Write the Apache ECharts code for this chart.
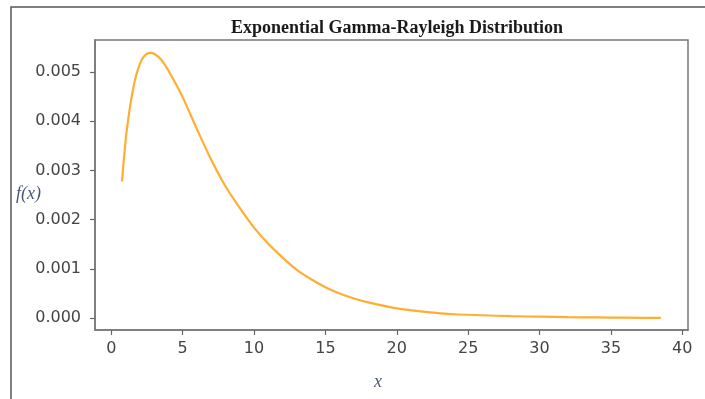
<!DOCTYPE html>
<html>
<head>
<meta charset="utf-8">
<script src="https://cdn.jsdelivr.net/npm/echarts@6/dist/echarts.min.js"></script>
<style>
  html, body { margin: 0; padding: 0; background: #fff; }
  #chart { width: 705px; height: 399px; }
</style>
</head>
<body>
<div id="chart"></div>
<script>
// values
const xs = [0.75, 1, 1.25, 1.5, 1.75, 2, 2.25, 2.5, 2.75, 3, 3.5, 4, 5, 6, 7, 8, 9, 10, 11, 12, 13,
  14, 15, 16, 17, 18, 20, 22, 24, 26, 28, 30, 32, 34, 36, 38.5]
const fx = [0.00278, 0.00360, 0.00417, 0.00461, 0.00494, 0.00516, 0.00530, 0.00537, 0.00539, 0.00537,
  0.00525, 0.00503, 0.00449, 0.00384, 0.00322, 0.00268, 0.00224, 0.00184, 0.00151, 0.00123, 0.00098,
  0.00079, 0.00063, 0.00050, 0.00040, 0.00032, 0.00020, 0.00013, 0.00008, 0.00006, 0.00004,
  0.00003, 0.00002, 0.000015, 0.00001, 0.000005]
const xTicks = [0, 5, 10, 15, 20, 25, 30, 35, 40]
const yTicks = [0, 0.001, 0.002, 0.003, 0.004, 0.005]

const chart = echarts.init(document.getElementById('chart'))

const tickFont = {
  color: '#444',
  fontFamily: 'DejaVu Sans',
  fontSize: 16
}

const option = {
  backgroundColor: '#fff',
  animation: false,
  title: {
    text: 'Exponential Gamma-Rayleigh Distribution',
    left: 392,
    textAlign: 'center',
    top: 14,
    textStyle: {
      color: '#1a1a1a',
      fontFamily: 'Liberation Serif',
      fontWeight: 'bold',
      fontSize: 18
    }
  },
  grid: {
    left: 95,
    right: 17,
    top: 40,
    bottom: 69,
    show: true,
    borderColor: '#777',
    borderWidth: 1.5,
    backgroundColor: '#fff'
  },
  xAxis: {
    type: 'value',
    min: -1.14,
    max: 40.4,
    splitLine: { show: false },
    axisLine: { show: true, onZero: false, lineStyle: { color: '#777', width: 1.5 } },
    axisTick: {
      show: true,
      length: 5,
      customValues: xTicks,
      lineStyle: { color: '#666', width: 1.2 }
    },
    axisLabel: {
      customValues: xTicks,
      margin: 11,
      ...tickFont
    }
  },
  yAxis: {
    type: 'value',
    min: -0.00024,
    max: 0.00565,
    splitLine: { show: false },
    axisLine: { show: true, onZero: false, lineStyle: { color: '#777', width: 1.5 } },
    axisTick: {
      show: true,
      length: 5,
      customValues: yTicks,
      lineStyle: { color: '#666', width: 1.2 }
    },
    axisLabel: {
      customValues: yTicks,
      margin: 14,
      formatter: v => v.toFixed(3),
      ...tickFont
    }
  },
  graphic: [
    {
      type: 'polyline',
      shape: { points: [[11, 399], [11, 7], [705, 7]] },
      style: { stroke: '#555', lineWidth: 1.5, fill: null }
    },
    {
      type: 'text',
      left: 16,
      top: 185,
      style: {
        text: 'f(x)',
        fill: '#4a5878',
        font: 'italic 18px "Liberation Serif"'
      }
    },
    {
      type: 'text',
      left: 374,
      top: 373,
      style: {
        text: 'x',
        fill: '#4a5878',
        font: 'italic 18px "Liberation Serif"'
      }
    }
  ],
  series: [
    {
      type: 'line',
      data: xs.map((x, i) => [x, fx[i]]),
      smooth: 0.2,
      showSymbol: false,
      lineStyle: { color: '#FFAD33', width: 2.2 }
    }
  ]
}

chart.setOption(option)
</script>
</body>
</html>
